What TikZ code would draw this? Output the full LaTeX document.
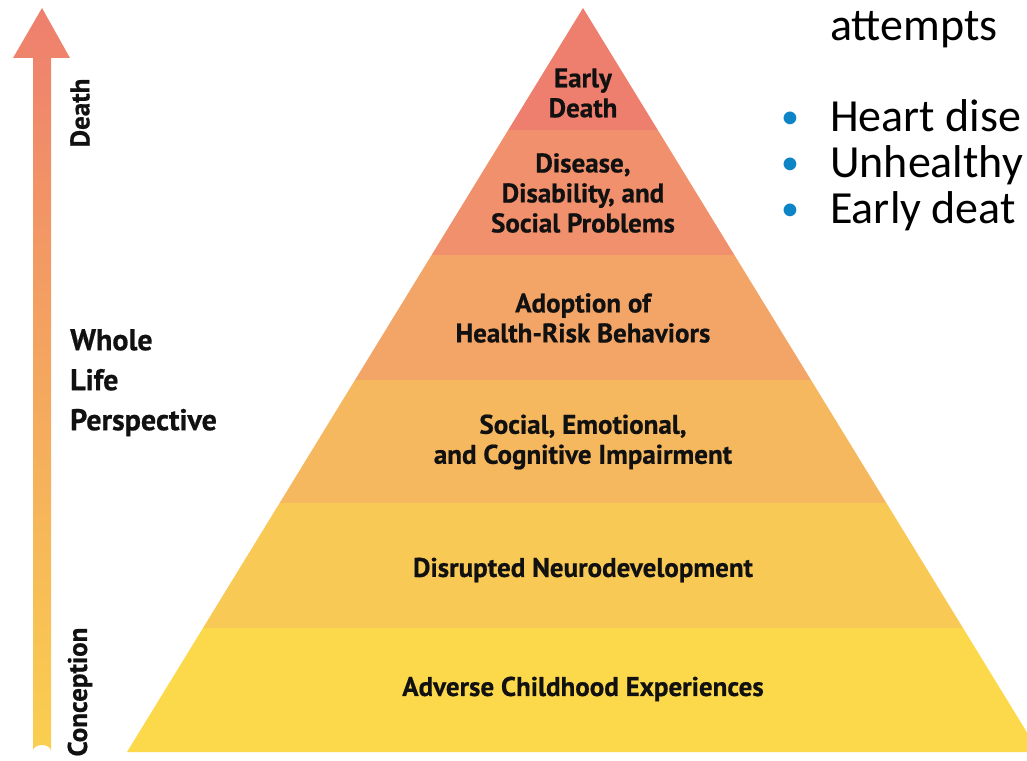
\documentclass[tikz,border=0pt]{standalone}
\usepackage{fontspec}
\setmainfont{PT Sans}[BoldFeatures={FakeBold=0.6}]
\newfontfamily\slidefont{Carlito}
\usetikzlibrary{calc}
\definecolor{bandA}{HTML}{EE7E6D}
\definecolor{bandB}{HTML}{F1906C}
\definecolor{bandC}{HTML}{F3A567}
\definecolor{bandD}{HTML}{F6B85F}
\definecolor{bandE}{HTML}{F9C955}
\definecolor{bandF}{HTML}{FCD94B}
\definecolor{arrowtop}{HTML}{EE7F6E}
\definecolor{arrowbot}{HTML}{FACF50}
\definecolor{bulletblue}{HTML}{0C84C6}
\definecolor{ink}{HTML}{111111}
\tikzset{
  band/.style={font=\bfseries\fontsize{27}{30}\selectfont,text=ink,align=center,inner sep=0pt},
  side/.style={font=\bfseries\fontsize{27}{30}\selectfont,text=ink,inner sep=0pt,rotate=90},
  slide/.style={font=\slidefont\fontsize{46}{50}\selectfont,text=black,anchor=base west,inner sep=0pt},
  dot/.style={font=\slidefont\fontsize{36}{50}\selectfont,text=bulletblue,anchor=base,inner sep=0pt}
}

\begin{document}
\begin{tikzpicture}[x=1pt,y=-1pt]
    \useasboundingbox (0,0) rectangle (1027,760);
    \clip (0,0) rectangle (1027,760);

    % time arrow
    \shade [top color=arrowtop, bottom color=arrowbot]
      (42,8) -- (70,58) -- (51,58) -- (51,751) arc (0:-180:9 and 6) -- (33,58) -- (13,58) -- cycle;
    \node [side] (death) at (80,113) {Death};
    \node [side] (conception) at (80,692) {Conception};
    \node [font=\bfseries\fontsize{30}{40}\selectfont, text=ink, align=left, anchor=north west, inner sep=0pt]
      (whole) at (70,329) {Whole\\Life\\Perspective};

    % pyramid
    \begin{scope}
      \clip (583,8) -- (1039,752) -- (127,752) -- cycle;
      \fill [bandA] (100,0) rectangle (1100,130);
      \fill [bandB] (100,130) rectangle (1100,255);
      \fill [bandC] (100,255) rectangle (1100,380);
      \fill [bandD] (100,380) rectangle (1100,503);
      \fill [bandE] (100,503) rectangle (1100,628);
      \fill [bandF] (100,628) rectangle (1100,760);
    \end{scope}

    \node [band] (early) at (583,93) {Early\\Death};
    \node [band] (disease) at (583,193) {Disease,\\Disability, and\\Social Problems};
    \node [band] (adoption) at (583,318) {Adoption of\\Health-Risk Behaviors};
    \node [band] (impair) at (583,442) {Social, Emotional,\\and Cognitive Impairment};
    \node [band] (neuro) at (583,570) {Disrupted Neurodevelopment};
    \node [band] (aces) at (583,689) {Adverse Childhood Experiences};

    % slide text on the right
    \node [slide] (attempts) at (830,41) {attempts};
    \node [dot] (b1) at (790,128) {•};
    \node [slide] (heart) at (830,131) {Heart dise};
    \node [dot] (b2) at (790,174) {•};
    \node [slide] (unhealthy) at (830,177) {Unhealthy};
    \node [dot] (b3) at (790,220) {•};
    \node [slide] (earlyd) at (830,223) {Early deat};
\end{tikzpicture}
\end{document}
